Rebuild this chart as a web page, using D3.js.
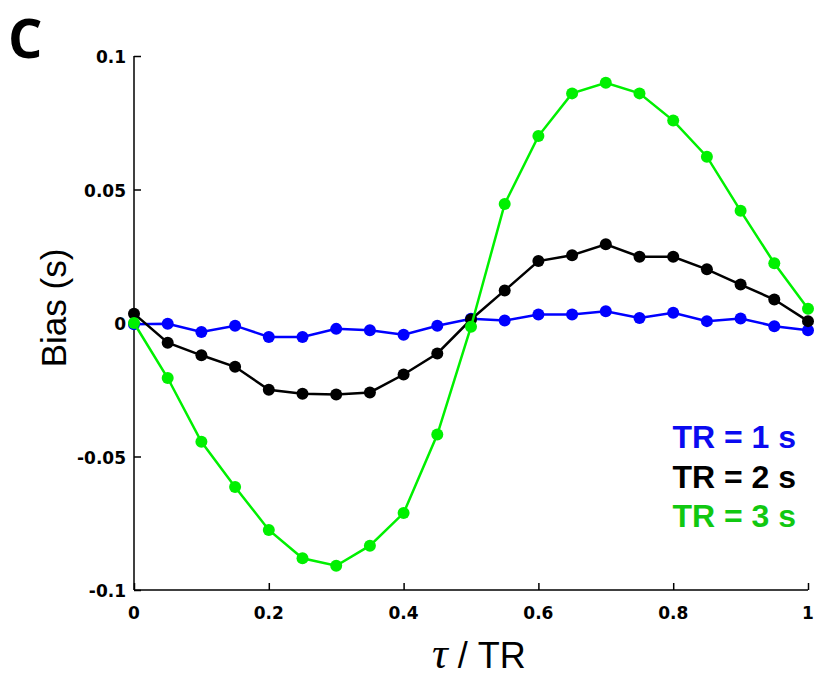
<!DOCTYPE html>
<html>
<head>
<meta charset="utf-8">
<script src="https://cdn.jsdelivr.net/npm/d3@7"></script>
<style>
    html, body { margin: 0; padding: 0; background: #fff; }
    svg { display: block; }
    .tick-label { font-family: 'DejaVu Sans', sans-serif; font-weight: bold; font-size: 17px; }
</style>
</head>
<body>
<div id="chart"></div>
<script>
// tau / TR sample positions
const tau = [0, 0.05, 0.1, 0.15, 0.2, 0.25, 0.3, 0.35, 0.4, 0.45, 0.5,
    0.55, 0.6, 0.65, 0.7, 0.75, 0.8, 0.85, 0.9, 0.95, 1];

// bias (s) for each TR
const biasTR1 = [-0.0005, -0.0003, -0.0034, -0.001, -0.0052, -0.0052, -0.0022, -0.0027, -0.0044, -0.001, 0.0016,
    0.0009, 0.0032, 0.0032, 0.0044, 0.0019, 0.0038, 0.0007, 0.0017, -0.0012, -0.0027];
const biasTR2 = [0.0035, -0.0074, -0.0121, -0.0164, -0.025, -0.0265, -0.0268, -0.026, -0.0193, -0.0114, 0.0013,
    0.0122, 0.0232, 0.0254, 0.0295, 0.0248, 0.0248, 0.0201, 0.0144, 0.0088, 0.0007];
const biasTR3 = [0, -0.0206, -0.0445, -0.0614, -0.0775, -0.0881, -0.0909, -0.0834, -0.0712, -0.0418, -0.0014,
    0.0446, 0.070, 0.086, 0.090, 0.086, 0.0758, 0.0623, 0.042, 0.0224, 0.0053];

const legendLabels = ['TR = 1 s', 'TR = 2 s', 'TR = 3 s'];
const xTicks = [0, 0.2, 0.4, 0.6, 0.8, 1];
const yTicks = [-0.1, -0.05, 0, 0.05, 0.1];

const series = [
    { label: legendLabels[0], values: biasTR1, line: '#0000ff', text: '#0a0af0' },
    { label: legendLabels[1], values: biasTR2, line: '#000000', text: '#000000' },
    { label: legendLabels[2], values: biasTR3, line: '#00f000', text: '#11c811' }
];

const width = 823;
const height = 679;
const margin = { top: 56, right: 15, bottom: 89, left: 134 };
const innerW = width - margin.left - margin.right;
const innerH = height - margin.top - margin.bottom;

const svg = d3.select('#chart')
    .append('svg')
    .attr('width', width)
    .attr('height', height);

const chart = svg.append('g')
    .attr('transform', `translate(${margin.left},${margin.top})`);

const x = d3.scaleLinear().domain([0, 1]).range([0, innerW]);
const y = d3.scaleLinear().domain([-0.1, 0.1]).range([innerH, 0]);

// axes: ticks point into the plot
const xAxis = d3.axisTop(x)
    .tickValues(xTicks)
    .tickSize(7)
    .tickFormat('');
const yAxis = d3.axisRight(y)
    .tickValues(yTicks)
    .tickSize(7)
    .tickFormat('');

chart.append('g')
    .attr('class', 'x-axis')
    .attr('transform', `translate(0,${innerH})`)
    .call(xAxis)
    .call(g => g.select('.domain').attr('d', `M0,0H${innerW}`));

chart.append('g')
    .attr('class', 'y-axis')
    .call(yAxis)
    .call(g => g.select('.domain').attr('d', `M0,${innerH}V0`));

chart.selectAll('.domain, .tick line')
    .attr('stroke', '#000')
    .attr('stroke-width', 1.5);

chart.selectAll('.x-label-tick')
    .data(xTicks)
    .enter().append('text')
    .attr('class', 'tick-label')
    .attr('x', d => x(d))
    .attr('y', innerH + 29)
    .attr('text-anchor', 'middle')
    .text(d => d3.format('')(d));

chart.selectAll('.y-label-tick')
    .data(yTicks)
    .enter().append('text')
    .attr('class', 'tick-label')
    .attr('x', -8)
    .attr('y', d => y(d) + 7)
    .attr('text-anchor', 'end')
    .text(d => d3.format('')(d).replace('\u2212', '-'));

// series lines + markers
const line = d3.line()
    .x((d, i) => x(tau[i]))
    .y(d => y(d));

series.forEach(s => {
    chart.append('path')
        .datum(s.values)
        .attr('fill', 'none')
        .attr('stroke', s.line)
        .attr('stroke-width', 2.5)
        .attr('d', line);

    chart.selectAll(null)
        .data(s.values)
        .enter().append('circle')
        .attr('cx', (d, i) => x(tau[i]))
        .attr('cy', d => y(d))
        .attr('r', 6)
        .attr('fill', s.line);
});

// legend
const legend = chart.append('g')
    .attr('transform', `translate(${innerW - 12},0)`);

legend.selectAll('text')
    .data(series)
    .enter().append('text')
    .attr('x', 0)
    .attr('y', (d, i) => y(-0.047) + i * 39.5)
    .attr('text-anchor', 'end')
    .attr('font-family', 'Liberation Sans, Arial, sans-serif')
    .attr('font-weight', 'bold')
    .attr('font-size', 32)
    .attr('fill', d => d.text)
    .text(d => d.label);

// axis titles
svg.append('text')
    .attr('transform', 'rotate(-90)')
    .attr('x', -308)
    .attr('y', 66)
    .attr('text-anchor', 'middle')
    .attr('font-family', 'Liberation Sans, Arial, sans-serif')
    .attr('font-size', 35)
    .text('Bias (s)');

const xTitle = svg.append('text')
    .attr('x', 432)
    .attr('y', 668)
    .attr('font-family', 'Liberation Sans, Arial, sans-serif')
    .attr('font-size', 36);

xTitle.append('tspan')
    .attr('font-family', 'Liberation Serif, serif')
    .attr('font-style', 'italic')
    .attr('font-size', 44)
    .text('\u03c4');
xTitle.append('tspan')
    .text(' / TR');

// panel letter
svg.append('text')
    .attr('x', 8)
    .attr('y', 58)
    .attr('font-family', 'Open Sans, sans-serif')
    .attr('font-weight', 'bold')
    .attr('font-size', 54)
    .text('C');
</script>
</body>
</html>
